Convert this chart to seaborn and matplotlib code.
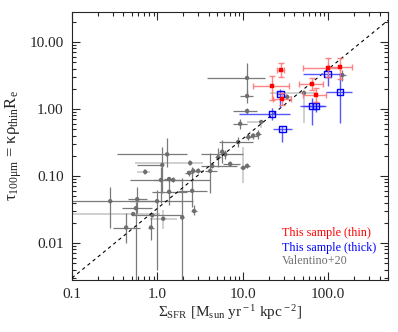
import numpy as np
import pandas as pd
import matplotlib
matplotlib.use("Agg")
import matplotlib.pyplot as plt
import seaborn as sns

# This sample (thin): values with lower/upper bounds
thin_x = [28, 22, 29, 65, 71, 100, 138]
thin_xlo = [25, 13, 22.7, 46, 51, 51, 100]
thin_xhi = [30, 35, 37, 87, 95, 138, 190]
thin_y = [3.8, 2.2, 1.41, 2.36, 1.62, 4.1, 4.2]
thin_ylo = [3.0, 1.35, 1.15, 1.92, 1.27, 3.0, 2.8]
thin_yhi = [4.9, 3.1, 1.73, 2.9, 2.04, 5.8, 5.8]

# This sample (thick)
thick_x = [27.5, 22, 29, 65, 72, 98, 138]
thick_xlo = [25, 9.1, 22.7, 47, 50, 51, 93]
thick_xhi = [30, 36, 38, 89, 95, 146, 190]
thick_y = [1.67, 0.84, 0.50, 1.11, 1.11, 3.3, 1.8]
thick_ylo = [1.07, 0.69, 0.32, 0.58, 0.9, 2.2, 0.62]
thick_yhi = [2.0, 1.03, 0.56, 1.46, 1.3, 4.5, 3.4]

# Valentino+20
val_x = [11.2, 11.2, 11.2, 33, 52, 146, 16.4, 9.3, 15.1, 13.2, 11.6, 8.8,
         6.22, 5.73, 5.15, 7.1, 10.1, 11.2, 4.38, 4.15, 3.0, 2.62, 2.35, 2.42,
         1.30, 1.14, 0.72, 1.10, 1.37, 1.53, 1.37, 2.55, 0.99, 0.58, 0.56,
         0.28, 0.52, 0.87, 1.17, 1.95, 2.69, 0.43, 0.84]
val_xlo = [3.8, 9.3, 7.7, 30, 21, 135, 11.2, 7.7, 14, 12, 10.5, 5.2,
           3.2, 5.2, 4.7, 5.9, 9.3, 10.3, 3.2, 3.6, 2.2, 2.4, 2.1, 0.55,
           0.34, 0.58, 0.58, 0.48, 1.2, 0.89, 0.87, 1.75, 0.48, 0.45, 0.38,
           0.055, 0.055, 0.52, 0.82, 1.85, 2.5, 0.30, 0.78]
val_xhi = [18.3, 13.2, 14.8, 38, 74, 160, 16.8, 11.2, 16.5, 15, 12.8, 13.2,
           10, 6.3, 5.6, 9.3, 11, 12.2, 8.6, 5.0, 3.4, 2.9, 2.6, 3.4,
           2.2, 1.08, 0.82, 2.0, 1.55, 4.15, 2.2, 3.8, 2.6, 0.75, 0.87,
           0.99, 1.08, 2.0, 1.7, 2.05, 2.9, 0.63, 0.9]
val_y = [2.9, 1.56, 0.93, 1.51, 1.73, 3.2, 0.64, 0.60, 0.42, 0.40, 0.38, 0.32,
         0.21, 0.23, 0.19, 0.151, 0.132, 0.141, 0.141, 0.119, 0.119, 0.119, 0.111, 0.156,
         0.21, 0.146, 0.115, 0.087, 0.090, 0.087, 0.058, 0.060, 0.042, 0.045, 0.033,
         0.042, 0.027, 0.026, 0.023, 0.024, 0.030, 0.017, 0.017]
val_ylo = [1.62, 1.23, 0.85, 1.35, 0.62, 2.6, 0.52, 0.50, 0.36, 0.36, 0.34, 0.27,
           0.18, 0.156, 0.136, 0.14, 0.079, 0.13, 0.13, 0.056, 0.11, 0.11, 0.10, 0.14,
           0.136, 0.056, 0.105, 0.040, 0.082, 0.080, 0.037, 0.035, 0.004, 0.028, 0.001,
           0.017, 0.025, 0.024, 0.016, 0.001, 0.026, 0.010, 0.011]
val_yhi = [4.9, 1.9, 1.02, 1.7, 1.9, 3.8, 0.68, 0.70, 0.48, 0.44, 0.42, 0.38,
           0.24, 0.34, 0.26, 0.165, 0.27, 0.155, 0.155, 0.22, 0.13, 0.13, 0.12, 0.175,
           0.37, 0.27, 0.125, 0.136, 0.098, 0.095, 0.087, 0.136, 0.062, 0.068, 0.041,
           0.068, 0.029, 0.028, 0.031, 0.093, 0.037, 0.028, 0.024]
val_light = [0, 0, 0, 1, 1, 0, 1, 0, 0, 0, 0, 0,
             0, 0, 0, 0, 1, 0, 0, 0, 0, 0, 0, 1,
             0, 0, 1, 0, 0, 0, 0, 0, 0, 0, 0,
             0, 1, 0, 1, 0, 0, 0, 0]

# reference line
line_x = [0.1, 500]
line_y = [0.003, 21]

x_ticks = [0.1, 1, 10, 100]
x_ticklabels = ["0.1", "1.0", "10.0", "100.0"]
y_ticks = [0.01, 0.1, 1, 10]
y_ticklabels = ["0.01", "0.10", "1.00", "10.00"]

sns.set_style("ticks")
plt.rcParams["font.family"] = ["Liberation Serif", "DejaVu Serif"]
plt.rcParams["mathtext.fontset"] = "custom"
plt.rcParams["mathtext.rm"] = "Liberation Serif"
plt.rcParams["mathtext.it"] = "Liberation Serif:italic"
plt.rcParams["xtick.direction"] = "in"
plt.rcParams["ytick.direction"] = "in"

fig = plt.figure(figsize=(3.98, 3.32), dpi=100)
ax = fig.add_axes([72 / 398, 1 - 280 / 332, 316 / 398, 268 / 332])


def err(v, lo, hi):
    v = np.asarray(v, dtype=float)
    lo = np.asarray(lo, dtype=float)
    hi = np.asarray(hi, dtype=float)
    return np.vstack([np.clip(v - lo, 0, None), np.clip(hi - v, 0, None)])


val = pd.DataFrame({"x": val_x, "y": val_y, "xlo": val_xlo, "xhi": val_xhi,
                    "ylo": val_ylo, "yhi": val_yhi, "light": val_light})

# gray error bars
for flag, col in [(1, "#c8c8c8"), (0, "#7a7a7a")]:
    d = val[val["light"] == flag]
    ax.errorbar(d["x"].to_numpy(), d["y"].to_numpy(),
                xerr=err(d["x"], d["xlo"], d["xhi"]),
                yerr=err(d["y"], d["ylo"], d["yhi"]), fmt="none",
                ecolor=col, elinewidth=1.2 if flag else 0.9, zorder=1)
sns.scatterplot(data=val, x="x", y="y", ax=ax, color="#6e6e6e", marker="o",
                s=10, edgecolor="none", zorder=2, legend=False)

ax.plot(line_x, line_y, color="black", lw=0.8, ls=(0, (3, 3)), zorder=3)

# thick (blue)
ax.errorbar(thick_x, thick_y, xerr=err(thick_x, thick_xlo, thick_xhi),
            yerr=err(thick_y, thick_ylo, thick_yhi), fmt="none",
            ecolor="#3a3aff", elinewidth=1.0, alpha=0.85, zorder=4)
sns.scatterplot(x=thick_x, y=thick_y, ax=ax, marker="s", s=22,
                facecolor="none", edgecolor="blue", linewidth=1.0, zorder=5)

# thin (red)
ax.errorbar(thin_x, thin_y, xerr=err(thin_x, thin_xlo, thin_xhi),
            yerr=err(thin_y, thin_ylo, thin_yhi), fmt="none",
            ecolor="#ff7070", elinewidth=1.0, capsize=2.5, capthick=1.0,
            alpha=0.85, zorder=6)
sns.scatterplot(x=thin_x, y=thin_y, ax=ax, marker="s", s=12, color="red",
                edgecolor="red", zorder=7)

ax.set_xscale("log")
ax.set_yscale("log")
ax.set_xlim(0.1, 500)
ax.set_ylim(0.0028, 28)
ax.set_xticks(x_ticks)
ax.set_xticklabels(x_ticklabels)
ax.set_yticks(y_ticks)
ax.set_yticklabels(y_ticklabels)
ax.tick_params(which="both", top=True, right=True, width=0.8, labelsize=11)
ax.tick_params(which="major", length=6, pad=6)
ax.tick_params(which="minor", length=3)
for s in ax.spines.values():
    s.set_linewidth(0.8)

ax.set_xlabel(r"Σ$_{\rm SFR}$ [M$_{\rm sun}$ yr$^{\rm -1}$ kpc$^{\rm -2}$]",
              fontsize=11, labelpad=1)
ax.set_ylabel(r"τ$_{\rm 100μm}$ = κρ$_{\rm thin}$R$_{\rm e}$",
              fontsize=12, labelpad=4)

ax.text(0.665, 0.175, "This sample (thin)", color="red", ha="left",
        va="center", fontsize=8.7, transform=ax.transAxes)
ax.text(0.665, 0.119, "This sample (thick)", color="blue", ha="left",
        va="center", fontsize=8.7, transform=ax.transAxes)
ax.text(0.665, 0.071, "Valentino+20", color="#707070", ha="left",
        va="center", fontsize=8.7, transform=ax.transAxes)

fig.savefig("out.png", dpi=100)
